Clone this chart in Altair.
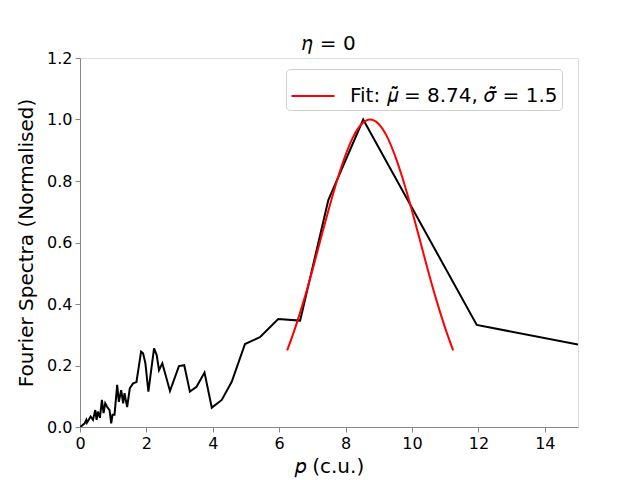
import altair as alt
import pandas as pd

# Black spectrum
p_vals = [0.0, 0.02, 0.14, 0.19, 0.21, 0.32, 0.39, 0.46, 0.50, 0.54, 0.60, 0.66, 0.71, 0.76, 0.82,
          0.89, 0.94, 0.98, 1.04, 1.12, 1.17, 1.24, 1.30, 1.34, 1.42, 1.50, 1.60, 1.70, 1.84,
          1.90, 1.97, 2.06, 2.23, 2.31, 2.38, 2.48, 2.71, 2.98, 3.14, 3.31, 3.51, 3.75, 3.97,
          4.27, 4.57, 4.97, 5.42, 5.97, 6.63, 7.48, 8.53, 11.95, 15.0]
s_vals = [0.0, 0.001, 0.012, 0.023, 0.014, 0.034, 0.023, 0.055, 0.023, 0.050, 0.030, 0.088, 0.045,
          0.077, 0.065, 0.055, 0.012, 0.040, 0.040, 0.137, 0.082, 0.120, 0.077, 0.110, 0.065,
          0.126, 0.142, 0.146, 0.245, 0.240, 0.207, 0.115, 0.256, 0.234, 0.185, 0.207, 0.117,
          0.198, 0.201, 0.115, 0.131, 0.177, 0.063, 0.088, 0.147, 0.270, 0.292, 0.351, 0.346,
          0.738, 1.0, 0.332, 0.268]

# Red fit curve
fit_p = [6.24, 6.49, 6.74, 6.99, 7.24, 7.49, 7.74, 7.99, 8.24, 8.49, 8.74,
         8.99, 9.24, 9.49, 9.74, 9.99, 10.24, 10.49, 10.74, 10.99, 11.24]
fit_s = [0.249, 0.325, 0.411, 0.506, 0.607, 0.707, 0.801, 0.882, 0.946, 0.986, 1.0,
         0.986, 0.946, 0.882, 0.801, 0.707, 0.607, 0.506, 0.411, 0.325, 0.249]

fit_label = "Fit: 𝜇̃ = 8.74, 𝜎̃ = 1.5"

spec_df = pd.DataFrame({"p": p_vals, "s": s_vals})
fit_df = pd.DataFrame({"p": fit_p, "s": fit_s, "series": fit_label})

FONT = "DejaVu Sans"

x_scale = alt.Scale(domain=[0, 15], nice=False, zero=False)
y_scale = alt.Scale(domain=[0, 1.2], nice=False)

x_axis = alt.Axis(title="𝑝 (c.u.)", values=[0, 2, 4, 6, 8, 10, 12, 14], format="d",
                  grid=False, titleFontSize=20, titleFontWeight="normal", labelFontSize=16,
                  labelFont=FONT, titleFont=FONT, labelFlush=False,
                  tickSize=5, labelPadding=3, titlePadding=5)
y_axis = alt.Axis(title="Fourier Spectra (Normalised)", values=[0, 0.2, 0.4, 0.6, 0.8, 1.0, 1.2],
                  format=".1f", grid=False, titleFontSize=20, titleFontWeight="normal",
                  labelFont=FONT, titleFont=FONT, labelFlush=False,
                  labelFontSize=16, tickSize=5, labelPadding=3, titlePadding=10)

spec = alt.Chart(spec_df).mark_line(color="black", strokeWidth=2, clip=True).encode(
    x=alt.X("p:Q", scale=x_scale, axis=x_axis),
    y=alt.Y("s:Q", scale=y_scale, axis=y_axis),
)

fit = alt.Chart(fit_df).mark_line(strokeWidth=2, interpolate="monotone").encode(
    x=alt.X("p:Q", scale=x_scale),
    y=alt.Y("s:Q", scale=y_scale),
    color=alt.Color("series:N", scale=alt.Scale(domain=[fit_label], range=["red"]),
                    legend=alt.Legend(title=None, orient="none", legendX=206, legendY=11,
                                      symbolType="stroke", symbolSize=1850, symbolStrokeWidth=2,
                                      labelFontSize=20, labelFont=FONT, padding=4,
                                      strokeColor="#d0d0d0", cornerRadius=4, fillColor="white",
                                      labelLimit=400, labelOffset=14)),
)

chart = alt.layer(spec, fit).properties(
    width=498, height=369,
    title=alt.Title("𝜂 = 0", fontSize=20, fontWeight="normal", font=FONT, offset=-4),
    autosize=alt.AutoSizeParams(type="none"),
    padding={"left": 72, "top": 50, "right": 54, "bottom": 60},
).configure_view(stroke="black", strokeWidth=1).configure_axis(
    domainColor="black", tickColor="black", labelColor="black", titleColor="black",
    labelFont=FONT, titleFont=FONT,
).configure(background="white")

chart.save("out.html", embed_options={"renderer": "svg", "actions": False})
